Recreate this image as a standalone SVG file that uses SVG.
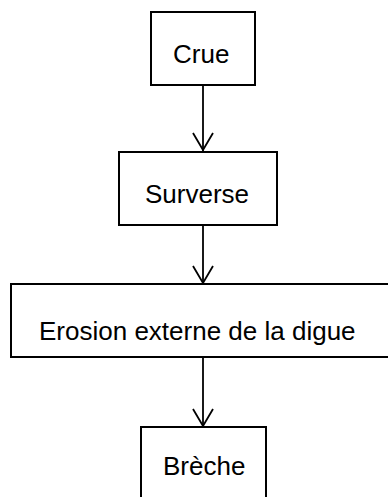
<svg xmlns="http://www.w3.org/2000/svg" width="388" height="497" viewBox="0 0 388 497">
<style>
.box{fill:#fff;stroke:#000;stroke-width:2}
.lbl{font-family:"Liberation Sans",Arial,sans-serif;font-size:26px;fill:#000}
.con{fill:none;stroke:#000;stroke-width:1.8}
</style>
<defs>
<marker id="arr" markerUnits="userSpaceOnUse" markerWidth="24" markerHeight="20" refX="11" refY="18" orient="auto" viewBox="0 0 22 20">
<path d="M1,1 L11,18 L21,1" fill="none" stroke="#000" stroke-width="1.8"/>
</marker>
</defs>
<rect width="388" height="497" fill="#fff"/>
<g id="connectors">
<line class="con" x1="203" y1="85" x2="203" y2="151"/>
<path class="con" d="M193,133 L203,150 L213,133"/>
<line class="con" x1="203" y1="225" x2="203" y2="284"/>
<path class="con" d="M193,266 L203,283 L213,266"/>
<line class="con" x1="203" y1="357" x2="203" y2="427"/>
<path class="con" d="M193,409 L203,426 L213,409"/>
</g>
<g id="crue">
<rect class="box" x="151" y="12" width="104" height="73"/>
<text class="lbl" x="173" y="63">Crue</text>
</g>
<g id="surverse">
<rect class="box" x="119" y="152" width="158" height="73"/>
<text class="lbl" x="145" y="203">Surverse</text>
</g>
<g id="erosion">
<rect class="box" x="11" y="284" width="390" height="73"/>
<text class="lbl" x="39" y="340">Erosion externe de la digue</text>
</g>
<g id="breche">
<rect class="box" x="141" y="427" width="125" height="80"/>
<text class="lbl" x="163" y="475">Brèche</text>
</g>
</svg>
